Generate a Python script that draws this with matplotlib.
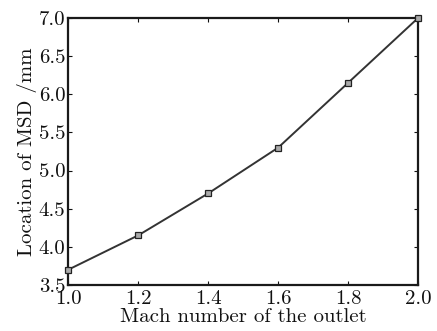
import numpy as np
import matplotlib
matplotlib.use("Agg")
import matplotlib.pyplot as plt

# Mach number at the outlet vs. location of the MSD
mach = [1.0, 1.2, 1.4, 1.6, 1.8, 2.0]
msd_loc = [3.7, 4.15, 4.7, 5.3, 6.15, 7.0]

xticks = [1.0, 1.2, 1.4, 1.6, 1.8, 2.0]
yticks = [3.5, 4.0, 4.5, 5.0, 5.5, 6.0, 6.5, 7.0]

plt.rcParams['font.family'] = ['cmr10', 'DejaVu Serif']
plt.rcParams['axes.formatter.use_mathtext'] = True

fig = plt.figure(figsize=(4.37, 3.31), dpi=100)
ax = fig.add_axes([0.156, 0.139, 0.801, 0.807])

ax.plot(mach, msd_loc, color='#333333', lw=1.4, marker='s', ms=4,
        mfc='#aaaaaa', mec='#222222', mew=0.9, clip_on=False, zorder=3)

ax.set_xlim(1.0, 2.0)
ax.set_ylim(3.5, 7.0)
ax.set_xticks(xticks)
ax.set_yticks(yticks)
ax.set_xticklabels(["%.1f" % v for v in xticks])
ax.set_yticklabels(["%.1f" % v for v in yticks])
ax.tick_params(direction='in', top=True, right=True, length=3, width=0.8,
               labelsize=15, colors='#111111')
ax.tick_params(axis='x', pad=3.5)
ax.tick_params(axis='y', pad=2)
for s in ax.spines.values():
    s.set_linewidth(1.6)
    s.set_color('#1a1a1a')

ax.set_xlabel("Mach number of the outlet", fontsize=15, labelpad=0, color='#111111')
ax.set_ylabel("Location of MSD /mm", fontsize=15, labelpad=1, color='#111111')

fig.savefig("out.png", dpi=100)
